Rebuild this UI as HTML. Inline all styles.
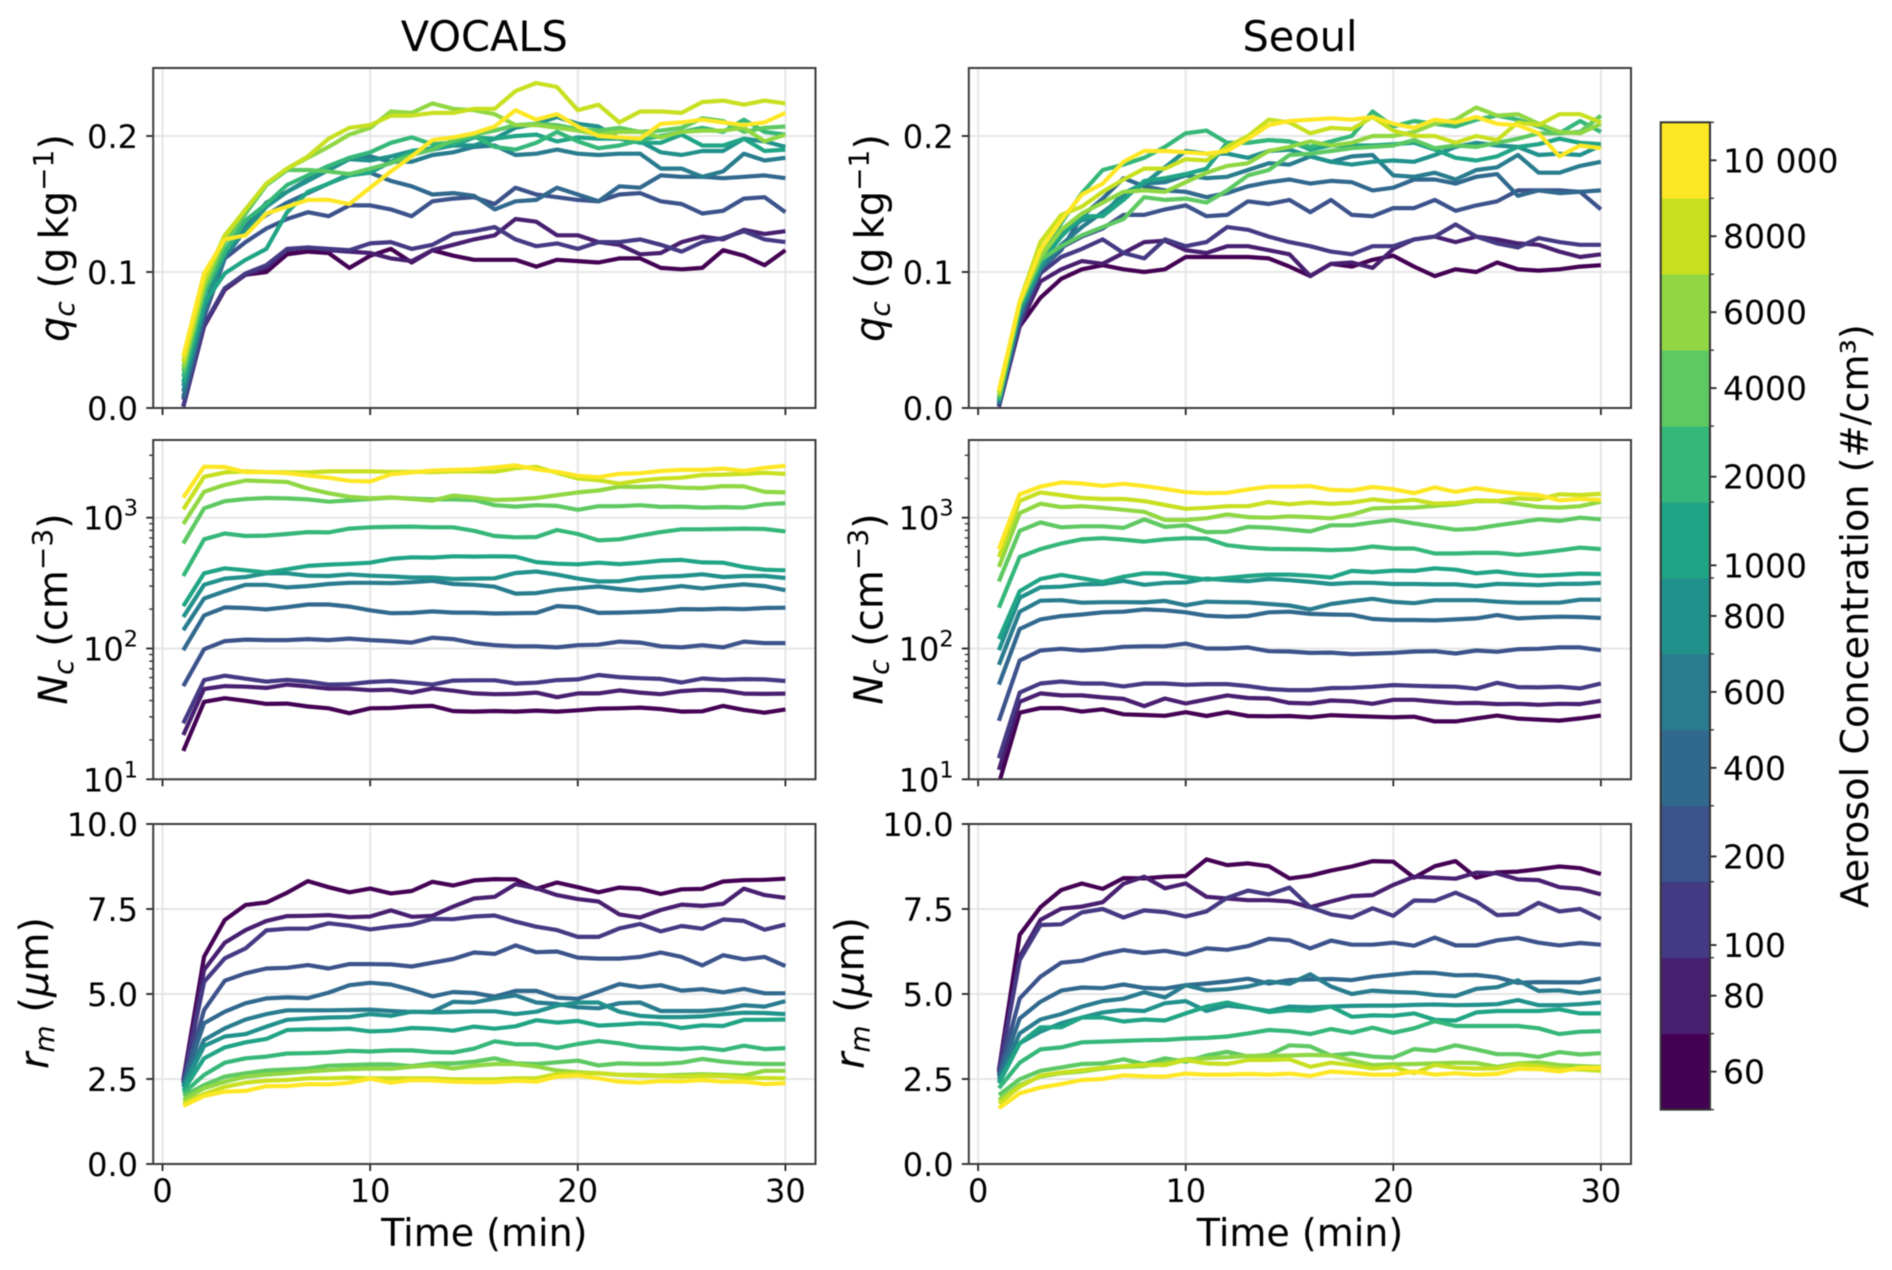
<!DOCTYPE html>
<html lang="en">
<head>
<meta charset="utf-8">
<title>VOCALS and Seoul aerosol concentration sensitivity</title>
<style>
html,body{margin:0;padding:0;background:#fff;}
svg{display:block;filter:blur(0.6px);font-family:"DejaVu Sans","Liberation Sans",sans-serif;fill:#000;}
</style>
</head>
<body>
<svg id="chart" xmlns="http://www.w3.org/2000/svg" width="1892" height="1270" viewBox="0 0 1892 1270">
<rect x="0" y="0" width="1892" height="1270" fill="#fff"/>
<defs id="clip-defs"></defs>
<g id="plots"></g>
<text x="484.3" y="51" font-size="41.5" text-anchor="middle">VOCALS</text>
<text x="1300" y="51" font-size="41.5" text-anchor="middle">Seoul</text>
<text transform="translate(68,238) rotate(-90)" font-size="40" text-anchor="middle"><tspan font-style="italic">q</tspan><tspan font-style="italic" font-size="28" dy="6">c</tspan><tspan dy="-6">&#160;(g&#8201;kg</tspan><tspan font-size="28" dy="-15">−1</tspan><tspan dy="15">)</tspan></text>
<text transform="translate(67,609) rotate(-90)" font-size="40" text-anchor="middle"><tspan font-style="italic">N</tspan><tspan font-style="italic" font-size="28" dy="6">c</tspan><tspan dy="-6">&#160;(cm</tspan><tspan font-size="28" dy="-15">−3</tspan><tspan dy="15">)</tspan></text>
<text transform="translate(48,993) rotate(-90)" font-size="40" text-anchor="middle"><tspan font-style="italic">r</tspan><tspan font-style="italic" font-size="28" dy="6">m</tspan><tspan dy="-6">&#160;(</tspan><tspan font-style="italic">μ</tspan><tspan>m)</tspan></text>
<text transform="translate(883.6,238) rotate(-90)" font-size="40" text-anchor="middle"><tspan font-style="italic">q</tspan><tspan font-style="italic" font-size="28" dy="6">c</tspan><tspan dy="-6">&#160;(g&#8201;kg</tspan><tspan font-size="28" dy="-15">−1</tspan><tspan dy="15">)</tspan></text>
<text transform="translate(882.6,609) rotate(-90)" font-size="40" text-anchor="middle"><tspan font-style="italic">N</tspan><tspan font-style="italic" font-size="28" dy="6">c</tspan><tspan dy="-6">&#160;(cm</tspan><tspan font-size="28" dy="-15">−3</tspan><tspan dy="15">)</tspan></text>
<text transform="translate(863.6,993) rotate(-90)" font-size="40" text-anchor="middle"><tspan font-style="italic">r</tspan><tspan font-style="italic" font-size="28" dy="6">m</tspan><tspan dy="-6">&#160;(</tspan><tspan font-style="italic">μ</tspan><tspan>m)</tspan></text>
<text x="484.3" y="1246" font-size="38" text-anchor="middle">Time (min)</text>
<text x="1300" y="1246" font-size="38" text-anchor="middle">Time (min)</text>
<text transform="translate(1868,616) rotate(-90)" font-size="38.2" text-anchor="middle">Aerosol Concentration (#/cm³)</text>
<g id="colorbar"></g>
</svg>
<script>
const times = [1,2,3,4,5,6,7,8,9,10,11,12,13,14,15,16,17,18,19,20,21,22,23,24,25,26,27,28,29,30];
const aerosolLevels = [60,80,100,200,400,600,800,1000,2000,4000,6000,8000,10000];
const levelColors = ["#440154","#481f70","#443983","#3b528b","#31688e","#287c8e","#21918c","#20a486","#35b779","#5ec962","#90d743","#c8e020","#fde725"];
const colorbarBoundaries = [50,70,90,150,300,500,700,900,1500,3000,5000,7000,9000,11000];
const colorbarTickLabels = ["60","80","100","200","400","600","800","1000","2000","4000","6000","8000","10 000"];
const xTicks = [0,10,20,30];
const qcTicks = [0,0.1,0.2];
const qcTickLabels = ["0.0","0.1","0.2"];
const ncTicks = [10,100,1000];
const ncTickExponents = ["1","2","3"];
const rmTicks = [0,2.5,5,7.5,10];
const rmTickLabels = ["0.0","2.5","5.0","7.5","10.0"];

const vocalsQc = [
[.001,.060,.087,.098,.100,.113,.115,.114,.103,.112,.117,.107,.116,.112,.109,.109,.109,.104,.109,.108,.107,.110,.110,.103,.102,.103,.116,.112,.105,.116],
[.001,.061,.088,.098,.103,.116,.118,.116,.115,.114,.110,.108,.116,.120,.124,.127,.139,.137,.127,.127,.122,.120,.113,.114,.122,.126,.124,.131,.128,.130],
[.001,.061,.088,.099,.105,.117,.118,.117,.116,.121,.122,.117,.120,.128,.130,.133,.124,.119,.121,.117,.122,.122,.124,.120,.115,.122,.125,.130,.124,.122],
[.006,.067,.110,.122,.132,.139,.144,.141,.149,.149,.146,.141,.152,.154,.155,.150,.162,.157,.155,.153,.152,.157,.158,.152,.150,.143,.145,.154,.155,.144],
[.008,.070,.111,.131,.142,.151,.158,.165,.172,.173,.167,.163,.157,.158,.156,.146,.152,.153,.162,.157,.152,.163,.162,.171,.170,.170,.169,.170,.171,.169],
[.012,.072,.111,.133,.151,.159,.168,.175,.184,.185,.181,.181,.186,.188,.192,.193,.186,.187,.190,.187,.186,.187,.187,.176,.176,.170,.174,.187,.182,.184],
[.016,.075,.113,.131,.148,.159,.167,.175,.183,.182,.185,.189,.190,.193,.193,.198,.206,.209,.214,.209,.207,.198,.196,.188,.186,.189,.189,.198,.196,.192],
[.019,.077,.099,.109,.117,.144,.159,.165,.171,.173,.181,.189,.191,.193,.199,.198,.200,.201,.196,.199,.198,.198,.195,.195,.201,.193,.193,.198,.189,.190],
[.023,.084,.115,.138,.150,.164,.171,.178,.184,.188,.195,.199,.194,.195,.200,.192,.190,.195,.203,.196,.191,.193,.197,.200,.203,.206,.203,.212,.203,.201],
[.027,.087,.121,.143,.164,.175,.175,.174,.172,.176,.180,.186,.190,.197,.201,.204,.208,.209,.208,.205,.204,.206,.203,.204,.206,.213,.211,.203,.206,.207],
[.030,.090,.125,.146,.165,.176,.184,.192,.201,.206,.218,.217,.224,.220,.219,.216,.208,.208,.206,.204,.201,.203,.203,.199,.203,.204,.204,.206,.196,.201],
[.034,.094,.127,.146,.165,.176,.185,.198,.206,.208,.215,.215,.217,.217,.220,.220,.233,.239,.236,.219,.223,.210,.218,.218,.217,.225,.226,.223,.226,.224],
[.038,.099,.124,.127,.143,.148,.153,.153,.150,.162,.174,.185,.197,.199,.202,.207,.219,.212,.216,.207,.200,.199,.198,.209,.210,.212,.210,.208,.210,.217]
];
const seoulQc = [
[.001,.060,.081,.095,.102,.105,.102,.100,.102,.111,.111,.111,.111,.110,.104,.097,.106,.104,.109,.112,.104,.097,.102,.100,.107,.102,.101,.102,.104,.105],
[.001,.061,.093,.102,.108,.106,.114,.122,.123,.116,.114,.119,.119,.116,.113,.097,.106,.107,.103,.117,.124,.126,.122,.126,.124,.121,.120,.115,.111,.113],
[.001,.062,.099,.111,.117,.124,.114,.110,.124,.119,.122,.133,.131,.126,.122,.119,.115,.113,.119,.119,.124,.126,.135,.126,.121,.118,.125,.122,.120,.120],
[.002,.066,.104,.118,.126,.132,.142,.142,.146,.149,.141,.142,.152,.150,.153,.144,.153,.142,.141,.147,.147,.153,.145,.149,.152,.160,.160,.160,.159,.146],
[.003,.067,.102,.116,.141,.154,.169,.163,.160,.159,.155,.158,.163,.166,.168,.165,.167,.166,.160,.162,.168,.168,.165,.170,.172,.156,.160,.158,.159,.160],
[.004,.070,.102,.120,.133,.144,.155,.165,.166,.171,.169,.170,.175,.180,.179,.185,.181,.185,.186,.171,.170,.173,.168,.175,.177,.186,.173,.173,.178,.181],
[.005,.072,.104,.128,.138,.142,.158,.165,.177,.189,.187,.187,.184,.189,.190,.185,.181,.179,.181,.182,.181,.186,.192,.195,.193,.192,.186,.187,.186,.193],
[.006,.073,.106,.126,.141,.141,.153,.167,.169,.172,.176,.195,.195,.197,.196,.190,.193,.193,.193,.194,.195,.190,.184,.182,.185,.192,.194,.198,.195,.194],
[.006,.075,.111,.136,.158,.175,.179,.184,.192,.202,.204,.195,.195,.197,.196,.192,.196,.200,.218,.207,.211,.209,.207,.212,.215,.212,.207,.202,.211,.203],
[.008,.076,.109,.119,.127,.133,.139,.155,.153,.154,.151,.160,.171,.175,.186,.187,.189,.191,.192,.193,.197,.191,.193,.192,.195,.198,.202,.202,.203,.215],
[.009,.077,.111,.131,.143,.151,.159,.160,.159,.166,.173,.178,.180,.189,.192,.196,.193,.195,.200,.200,.203,.209,.212,.221,.215,.216,.209,.203,.202,.209],
[.011,.078,.122,.142,.148,.159,.168,.176,.176,.183,.182,.192,.200,.212,.210,.202,.206,.205,.214,.204,.200,.200,.195,.200,.197,.210,.208,.216,.216,.210],
[.013,.078,.116,.138,.157,.165,.181,.189,.189,.188,.187,.189,.198,.208,.211,.212,.213,.212,.214,.209,.206,.212,.210,.214,.209,.208,.202,.185,.193,.191]
];
const vocalsNc = [
[16.5,39.1,41.7,39.8,37.7,37.9,36,34.9,32,34.9,35.1,36,36.4,33.2,32.9,33.3,32.9,33.5,32.9,33.7,34.7,34.9,35.3,34.5,32.9,33.1,36.4,33.9,32.3,34.2],
[21.8,49,51.6,51,50,53,51.3,49.3,49.3,48,48.4,45.9,49.5,47.6,45.4,44.7,45,46,42.4,45.4,45.4,47.8,46,44.7,47.2,48.3,47.8,45.2,45,45.2],
[26.8,57.3,62,58.8,55.8,57.6,55.8,53,53.3,55.4,56.4,54.8,53,56.8,57.1,57.1,54,54.8,57.3,58,62.7,60.4,59.3,58.6,55,59,57.6,58.3,58,56.4],
[51.6,98.8,114,117,116,116,118,116,119,116,114,111,121,118,110,106,104,104,102,106,107,113,111,104,102,106,102,113,110,110],
[97,179,206,204,199,207,217,217,209,196,186,187,192,188,188,185,186,187,211,207,187,188,190,193,200,199,202,200,204,205],
[138,241,274,307,307,293,300,311,318,318,316,321,329,311,307,297,263,265,281,289,298,285,277,287,300,288,300,309,300,279],
[174,307,342,352,376,376,360,358,369,360,356,349,349,340,342,344,378,388,367,342,325,327,346,354,358,369,352,358,358,346],
[211,376,410,396,381,403,428,438,444,453,484,498,495,507,504,507,504,458,445,440,453,442,453,470,476,455,453,420,400,396],
[358,684,757,725,730,750,776,772,825,845,850,855,845,845,794,725,708,712,805,750,670,684,730,776,815,815,820,825,820,785],
[635,1180,1340,1390,1415,1405,1380,1325,1355,1390,1425,1400,1380,1380,1365,1245,1215,1245,1230,1150,1225,1225,1245,1210,1215,1195,1205,1195,1265,1290],
[895,1580,1780,1925,1900,1875,1670,1540,1445,1405,1430,1390,1350,1475,1430,1365,1380,1415,1485,1560,1615,1725,1715,1745,1695,1685,1745,1735,1575,1560],
[1157,2055,2220,2260,2230,2220,2220,2260,2260,2260,2245,2245,2230,2260,2260,2245,2390,2445,2205,1995,1935,1820,1925,1985,2020,2120,2135,2160,2205,2160],
[1425,2455,2440,2230,2230,2190,2100,2020,1915,1890,2145,2220,2290,2320,2345,2420,2510,2345,2245,2090,2040,2165,2190,2275,2320,2320,2375,2275,2405,2495]
];
const seoulNc = [
[9.3,32.3,35,35,32.9,34.3,31.4,31,30.6,32.6,30.5,32.6,30.5,30.3,30.5,29.8,30.9,30.5,30.1,29.8,30.1,27.7,27.7,29.2,30.7,29.1,28.6,28.1,29.2,30.7],
[11.8,39.1,45.4,43.8,43.8,42.3,41.2,36.3,41.5,38,40.8,43.8,41.8,41.5,38.4,38,40,39.5,37.8,40.5,40.5,39.3,38.2,38.4,37.6,37.8,37.1,37.8,37.6,39.8],
[14.5,46,54,55.9,54,54,51.3,54,54,52.8,53.4,53.4,51.6,49,48.1,48.1,49.8,50.1,51,52.5,51.9,51.3,51,49.3,54.7,50.7,50.4,51,49.5,54],
[28,81,96.6,99.4,96.6,98.8,103,104,104,109,100,100,102,95.4,94.8,92.6,93.1,90.6,91.6,92.6,94.8,95.4,91.6,96.6,94.3,98.8,99.4,102,102,97],
[53,141,167,177,182,189,191,199,196,189,178,175,177,189,191,184,182,181,168,165,165,164,167,170,180,170,173,175,174,171],
[75,191,232,234,224,226,226,225,231,214,228,226,225,219,213,199,219,230,240,227,222,234,234,234,228,224,224,224,236,236],
[97,244,293,297,309,311,329,307,318,320,342,333,327,340,333,323,311,318,318,311,311,309,309,300,312,309,305,312,312,318],
[118,274,340,365,344,323,354,376,374,352,336,346,358,367,367,360,349,392,384,394,392,410,400,376,388,369,360,365,374,371],
[205,501,575,635,684,697,680,657,684,697,692,616,591,577,575,572,565,572,602,581,581,532,532,538,538,520,538,562,591,575],
[326,794,920,845,860,860,835,970,850,875,776,780,850,840,812,785,875,875,920,960,905,855,810,825,875,920,970,945,1000,970],
[420,1085,1280,1205,1225,1190,1150,1110,960,960,990,1060,1010,1000,1025,1010,990,1055,1175,1190,1195,1230,1265,1340,1340,1275,1210,1195,1225,1325],
[501,1345,1560,1485,1415,1390,1390,1340,1250,1170,1190,1225,1225,1315,1265,1310,1275,1305,1380,1330,1370,1280,1295,1355,1345,1405,1380,1510,1490,1520],
[575,1510,1725,1860,1825,1750,1815,1745,1660,1565,1540,1550,1645,1725,1725,1745,1630,1615,1715,1650,1540,1705,1575,1685,1590,1530,1490,1355,1390,1365]
];
const vocalsRm = [
[2.47,6.10,7.18,7.62,7.69,7.98,8.32,8.14,7.99,8.10,7.96,8.03,8.30,8.19,8.34,8.38,8.37,8.09,8.28,8.14,7.99,8.13,8.09,7.94,8.08,8.09,8.31,8.35,8.36,8.39],
[2.45,5.71,6.51,6.88,7.15,7.29,7.30,7.32,7.26,7.28,7.46,7.27,7.30,7.57,7.81,7.86,8.23,8.11,7.91,7.79,7.72,7.34,7.25,7.47,7.63,7.59,7.65,8.10,7.91,7.83],
[2.42,5.36,6.05,6.34,6.87,6.92,6.92,7.08,7.01,6.90,6.98,7.04,7.21,7.20,7.28,7.31,7.13,6.98,6.88,6.68,6.68,6.93,7.06,6.84,7.00,6.92,7.19,7.15,6.89,7.04],
[2.39,4.53,5.39,5.61,5.75,5.77,5.85,5.75,5.88,5.88,5.87,5.81,5.92,6.03,6.22,6.18,6.43,6.23,6.25,6.07,6.04,6.04,6.09,6.22,6.09,5.84,6.14,6.02,6.09,5.82],
[2.35,4.14,4.48,4.73,4.87,4.90,4.88,5.04,5.26,5.33,5.28,5.12,4.93,5.06,5.03,4.92,5.09,5.09,4.89,4.86,5.07,5.29,5.20,5.26,5.10,5.14,5.05,5.15,5.02,5.02],
[2.29,3.65,3.99,4.25,4.41,4.52,4.52,4.52,4.53,4.54,4.50,4.47,4.48,4.77,4.75,4.87,4.96,4.75,4.71,4.61,4.58,4.73,4.75,4.50,4.50,4.50,4.55,4.67,4.63,4.79],
[2.25,3.47,3.75,3.82,4.04,4.24,4.28,4.31,4.32,4.41,4.36,4.48,4.46,4.47,4.49,4.49,4.41,4.48,4.66,4.75,4.75,4.48,4.36,4.32,4.32,4.34,4.41,4.45,4.44,4.41],
[2.16,3.11,3.43,3.58,3.68,3.94,3.96,3.96,3.98,3.90,3.92,4.00,3.98,3.92,4.04,3.98,4.05,4.23,4.16,4.21,4.07,4.10,4.14,4.12,4.00,4.08,4.06,4.24,4.24,4.25],
[2.08,2.62,2.98,3.11,3.16,3.25,3.26,3.28,3.33,3.31,3.34,3.34,3.29,3.28,3.39,3.61,3.52,3.52,3.41,3.53,3.62,3.55,3.44,3.41,3.38,3.42,3.35,3.48,3.38,3.41],
[2.00,2.32,2.57,2.67,2.75,2.78,2.81,2.89,2.91,2.93,2.93,2.88,2.96,2.96,3.01,3.11,2.96,2.94,2.99,3.04,2.90,2.96,2.94,2.94,2.98,3.09,3.01,2.96,2.94,2.94],
[1.88,2.23,2.42,2.57,2.63,2.67,2.72,2.76,2.79,2.81,2.80,2.86,2.90,2.81,2.89,2.94,2.94,2.87,2.75,2.70,2.67,2.62,2.62,2.60,2.62,2.64,2.62,2.60,2.74,2.74],
[1.78,2.06,2.27,2.39,2.45,2.47,2.52,2.52,2.54,2.52,2.52,2.52,2.52,2.49,2.49,2.49,2.52,2.52,2.65,2.67,2.67,2.62,2.60,2.59,2.57,2.59,2.59,2.53,2.53,2.52],
[1.71,2.00,2.13,2.15,2.29,2.29,2.35,2.34,2.39,2.51,2.39,2.47,2.46,2.42,2.41,2.41,2.45,2.42,2.57,2.60,2.52,2.42,2.39,2.44,2.43,2.47,2.42,2.42,2.35,2.38]
];
const seoulRm = [
[2.76,6.74,7.55,8.06,8.25,8.09,8.41,8.40,8.45,8.47,8.96,8.79,8.84,8.76,8.40,8.48,8.63,8.75,8.91,8.89,8.42,8.76,8.91,8.42,8.58,8.60,8.67,8.75,8.70,8.53],
[2.72,6.10,7.18,7.51,7.57,7.70,8.24,8.45,8.11,8.25,7.86,7.81,7.76,7.76,7.72,7.55,7.72,7.88,7.91,8.21,8.45,8.42,8.39,8.57,8.55,8.37,8.35,8.14,8.09,7.93],
[2.69,6.00,7.03,7.05,7.40,7.50,7.25,7.46,7.41,7.28,7.43,7.83,8.04,7.93,8.13,7.55,7.34,7.25,7.52,7.30,7.75,7.74,7.98,7.72,7.32,7.35,7.68,7.43,7.50,7.21],
[2.62,4.87,5.51,5.92,5.98,6.17,6.29,6.21,6.27,6.16,6.34,6.30,6.41,6.62,6.58,6.34,6.57,6.45,6.45,6.51,6.42,6.66,6.43,6.43,6.58,6.65,6.51,6.43,6.50,6.45],
[2.57,4.28,4.77,5.10,5.19,5.17,5.28,5.18,5.16,5.26,5.31,5.37,5.45,5.31,5.41,5.43,5.44,5.41,5.51,5.57,5.63,5.62,5.55,5.56,5.49,5.33,5.35,5.34,5.34,5.46],
[2.49,3.84,4.25,4.41,4.63,4.79,4.86,5.05,4.90,5.26,5.11,5.14,5.22,5.37,5.30,5.58,5.22,5.00,5.10,5.06,5.04,4.97,4.94,5.15,5.20,5.40,5.09,5.11,5.02,5.09],
[2.42,3.55,3.89,4.14,4.31,4.46,4.53,4.50,4.73,4.79,4.50,4.66,4.60,4.50,4.63,4.61,4.63,4.65,4.66,4.66,4.68,4.69,4.67,4.68,4.70,4.82,4.67,4.67,4.70,4.75],
[2.37,3.55,4.02,4.02,4.31,4.31,4.19,4.25,4.22,4.43,4.63,4.75,4.61,4.47,4.53,4.50,4.63,4.33,4.37,4.36,4.43,4.24,4.22,4.46,4.50,4.50,4.50,4.55,4.43,4.43],
[2.23,2.98,3.37,3.43,3.58,3.60,3.62,3.64,3.65,3.69,3.71,3.75,3.84,3.94,3.91,3.82,3.97,3.86,4.01,3.86,3.99,4.20,4.06,4.06,4.06,4.06,3.99,3.82,3.89,3.91],
[2.03,2.49,2.74,2.84,2.94,2.96,3.08,2.94,3.11,3.01,3.19,3.30,3.16,3.21,3.49,3.46,3.19,3.25,3.16,3.13,3.38,3.33,3.49,3.37,3.23,3.23,3.15,3.29,3.22,3.26],
[1.88,2.32,2.57,2.67,2.72,2.81,2.86,2.88,2.98,3.08,3.11,3.14,3.18,3.18,3.19,3.21,3.19,3.04,2.91,2.93,2.94,2.96,2.98,2.97,2.86,2.96,2.99,2.91,2.88,2.86],
[1.78,2.27,2.60,2.69,2.76,2.83,2.88,2.92,2.91,3.06,2.96,2.94,3.06,3.06,3.08,2.86,2.98,2.91,2.81,2.86,2.67,2.91,2.83,2.81,2.81,2.93,2.88,2.81,2.78,2.74],
[1.64,2.08,2.25,2.35,2.47,2.50,2.61,2.58,2.57,2.66,2.63,2.63,2.65,2.63,2.66,2.59,2.72,2.68,2.63,2.63,2.72,2.63,2.67,2.63,2.65,2.80,2.79,2.72,2.83,2.83]
];

const SVG_NS = "http://www.w3.org/2000/svg";
const plots = document.getElementById("plots");
const clipDefs = document.getElementById("clip-defs");
const colorbar = document.getElementById("colorbar");

function make(tag, attrs, parent) {
  const el = document.createElementNS(SVG_NS, tag);
  for (const key in attrs) el.setAttribute(key, attrs[key]);
  parent.appendChild(el);
  return el;
}
function linearAxis(d0, d1, r0, r1) {
  return function (v) { return r0 + (v - d0) / (d1 - d0) * (r1 - r0); };
}
function logAxis(d0, d1, r0, r1) {
  return function (v) { return r0 + (Math.log10(v) - Math.log10(d0)) / (Math.log10(d1) - Math.log10(d0)) * (r1 - r0); };
}

const columnBoxes = [
  {key: "vocals", left: 153.2, right: 815.5, labelX: 138},
  {key: "seoul", left: 968.8, right: 1631, labelX: 953.6}
];
const rowBoxes = [
  {key: "qc", top: 68, bottom: 408, kind: "linear", lo: 0, hi: 0.25, ticks: qcTicks, labels: qcTickLabels},
  {key: "nc", top: 440, bottom: 779.3, kind: "log", lo: 10, hi: 3926, ticks: ncTicks, labels: ncTickExponents},
  {key: "rm", top: 824, bottom: 1164, kind: "linear", lo: 0, hi: 10, ticks: rmTicks, labels: rmTickLabels}
];
const panelData = {
  "vocals-qc": vocalsQc, "seoul-qc": seoulQc,
  "vocals-nc": vocalsNc, "seoul-nc": seoulNc,
  "vocals-rm": vocalsRm, "seoul-rm": seoulRm
};

columnBoxes.forEach(function (col) {
  rowBoxes.forEach(function (row) {
    const id = col.key + "-" + row.key;
    const series = panelData[id];
    const xScale = linearAxis(-0.45, 31.45, col.left, col.right);
    const yScale = row.kind === "log"
      ? logAxis(row.lo, row.hi, row.bottom, row.top)
      : linearAxis(row.lo, row.hi, row.bottom, row.top);

    const clip = make("clipPath", {id: "clip-" + id}, clipDefs);
    make("rect", {x: col.left, y: row.top, width: col.right - col.left, height: row.bottom - row.top}, clip);

    const panel = make("g", {}, plots);
    
    

    xTicks.forEach(function (t) {
      const x = xScale(t);
      const grid = make("line", {x1: x, x2: x, y1: row.top, y2: row.bottom, stroke: "#e6e6e6", "stroke-width": 2}, panel);
      
      
      const mark = make("line", {x1: x, x2: x, y1: row.bottom, y2: row.bottom + 7, stroke: "#222", "stroke-width": 1.8}, panel);
      
      
      if (row.key === "rm") {
        const label = make("text", {x: x, y: 1202, "font-size": 32, "text-anchor": "middle"}, panel);
        label.textContent = String(t);
        
        
      }
    });

    row.ticks.forEach(function (v, i) {
      const y = yScale(v);
      const grid = make("line", {x1: col.left, x2: col.right, y1: y, y2: y, stroke: "#e6e6e6", "stroke-width": 2}, panel);
      
      
      const mark = make("line", {x1: col.left - 7, x2: col.left, y1: y, y2: y, stroke: "#222", "stroke-width": 1.8}, panel);
      
      
      const label = make("text", {x: col.labelX, y: y + 12, "font-size": 32, "text-anchor": "end"}, panel);
      
      
      if (row.kind === "log") {
        const base = make("tspan", {}, label);
        base.textContent = "10";
        const power = make("tspan", {"font-size": 22.4, dy: -14}, label);
        power.textContent = row.labels[i];
      } else {
        label.textContent = row.labels[i];
      }
    });

    if (row.kind === "log") {
      [10, 100, 1000].forEach(function (decade) {
        [2, 3, 4, 5, 6, 7, 8, 9].forEach(function (m) {
          const value = decade * m;
          if (value > row.hi) return;
          const y = yScale(value);
          const minor = make("line", {x1: col.left - 4, x2: col.left, y1: y, y2: y, stroke: "#333", "stroke-width": 1.4}, panel);
          
          
        });
      });
    }

    const lines = make("g", {"clip-path": "url(#clip-" + id + ")"}, panel);
    series.forEach(function (values, s) {
      const points = values.map(function (v, i) {
        return xScale(times[i]).toFixed(1) + "," + yScale(v).toFixed(1);
      }).join(" ");
      const line = make("polyline", {points: points, fill: "none", stroke: levelColors[s], "stroke-width": 4.2, "stroke-linejoin": "round"}, lines);
      
      
    });

    const frame = make("rect", {x: col.left, y: row.top, width: col.right - col.left, height: row.bottom - row.top, fill: "none", stroke: "#3a3a3a", "stroke-width": 2}, panel);
    
    
  });
});

const barLeft = 1660.7;
const barRight = 1710;
const barTop = 122.3;
const barBottom = 1109.6;
const segmentHeight = (barBottom - barTop) / (colorbarBoundaries.length - 1);

function colorbarY(value) {
  for (let i = 0; i < colorbarBoundaries.length - 1; i++) {
    if (value <= colorbarBoundaries[i + 1]) {
      const frac = (value - colorbarBoundaries[i]) / (colorbarBoundaries[i + 1] - colorbarBoundaries[i]);
      return barBottom - (i + frac) * segmentHeight;
    }
  }
  return barTop;
}

levelColors.forEach(function (color, i) {
  const yTop = colorbarY(colorbarBoundaries[i + 1]);
  const yBottom = colorbarY(colorbarBoundaries[i]);
  const swatch = make("rect", {x: barLeft, y: yTop, width: barRight - barLeft, height: yBottom - yTop + 0.4, fill: color}, colorbar);
  
  
});
colorbarBoundaries.forEach(function (b) {
  const y = colorbarY(b);
  const minor = make("line", {x1: barRight, x2: barRight + 4, y1: y, y2: y, stroke: "#333", "stroke-width": 1.4}, colorbar);
  
  
});
aerosolLevels.forEach(function (level, i) {
  const y = colorbarY(level);
  const mark = make("line", {x1: barRight, x2: barRight + 6.5, y1: y, y2: y, stroke: "#222", "stroke-width": 1.8}, colorbar);
  
  
  const label = make("text", {x: 1723, y: y + 12, "font-size": 33}, colorbar);
  label.textContent = colorbarTickLabels[i];
  
  
});
const barFrame = make("rect", {x: barLeft, y: barTop, width: barRight - barLeft, height: barBottom - barTop, fill: "none", stroke: "#333", "stroke-width": 2}, colorbar);


</script>
</body>
</html>
